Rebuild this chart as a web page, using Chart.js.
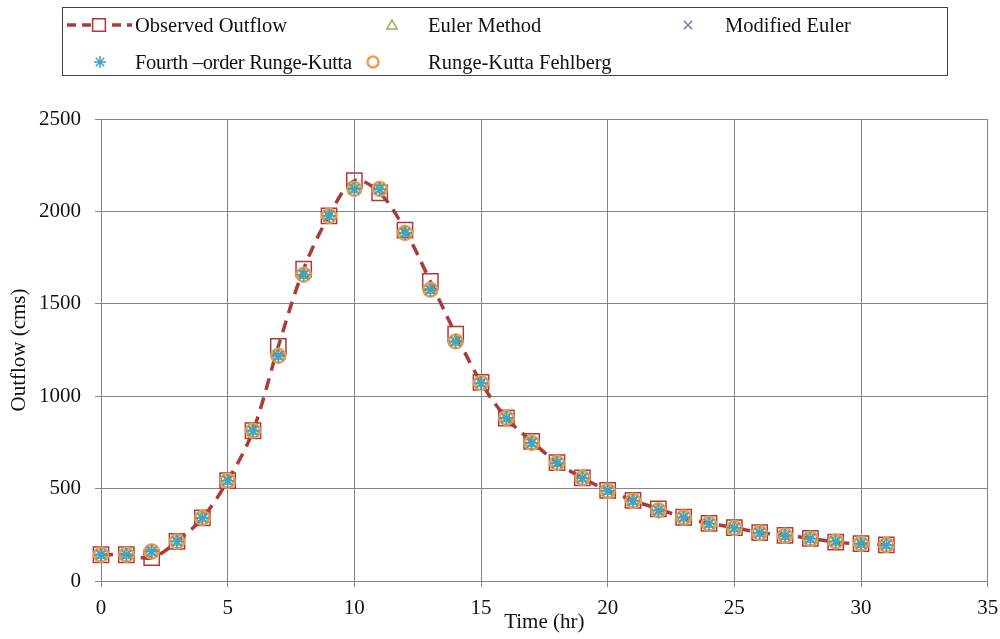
<!DOCTYPE html>
<html><head><meta charset="utf-8">
<script src="https://cdn.jsdelivr.net/npm/chart.js@4.4.1/dist/chart.umd.min.js"></script>
<style>
html,body{margin:0;padding:0;background:#fff;}
#wrap{position:relative;width:1000px;height:639px;overflow:hidden;}
#c{position:absolute;left:0;top:0;}
#lc{position:absolute;left:0;top:0;}
#legend{position:absolute;left:62px;top:7px;width:886px;height:69px;border:1.5px solid #404040;box-sizing:border-box;}
.lt{position:absolute;font-family:"Liberation Serif",serif;font-size:20.5px;line-height:24px;color:#111;white-space:nowrap;}
</style></head>
<body>
<div id="wrap">
<canvas id="c" width="1000" height="639"></canvas>
<div id="legend"></div>
<canvas id="lc" width="1000" height="80"></canvas>
<span class="lt" style="left:135px;top:13px">Observed Outflow</span>
<span class="lt" style="left:428px;top:13px">Euler Method</span>
<span class="lt" style="left:725px;top:13px">Modified Euler</span>
<span class="lt" style="left:135px;top:50px;letter-spacing:-0.3px">Fourth –order Runge-Kutta</span>
<span class="lt" style="left:428px;top:50px">Runge-Kutta Fehlberg</span>
</div>
<script>
// ---- data ----
const hours = [0,1,2,3,4,5,6,7,8,9,10,11,12,13,14,15,16,17,18,19,20,21,22,23,24,25,26,27,28,29,30,31];
const observedOutflow = [142,142,126,214,341,543,813,1270,1688,1976,2166,2100,1899,1621,1336,1075,882,756,640,558,490,436,390,345,312,289,262,247,231,210,202,196];
const eulerMethod     = [142,142,160,214,341,543,813,1219,1657,1976,2121,2121,1883,1576,1296,1071,882,747,638,557,488,434,382,344,310,287,260,245,229,214,202,195];
const modifiedEuler   = [142,142,160,214,341,543,813,1219,1657,1976,2121,2121,1883,1576,1296,1071,882,747,638,557,488,434,382,344,310,287,260,245,229,214,202,195];
const rungeKutta4     = [142,142,160,214,341,543,813,1219,1657,1976,2121,2121,1883,1576,1296,1071,882,747,638,557,488,434,382,344,310,287,260,245,229,214,202,195];
const rungeKuttaFehlberg = [142,142,160,214,341,543,813,1219,1657,1976,2121,2121,1883,1576,1296,1071,882,747,638,557,488,434,382,344,310,287,260,245,229,214,202,195];
const xTicks = [0,5,10,15,20,25,30,35];
const yTicks = [0,500,1000,1500,2000,2500];

const RED='#A93C3A', GREEN='#8FB150', PURPLE='#8A70AC', TEAL='#43A3C0', ORANGE='#F59A4A';
const pts = arr => hours.map((t,i)=>({x:t,y:arr[i]}));
const font = {family:'"Liberation Serif", serif', size:21};
const GRID='#858585';

new Chart(document.getElementById('c').getContext('2d'), {
  type:'line',
  data:{datasets:[
    {label:'Observed Outflow', data:pts(observedOutflow), borderColor:RED, borderWidth:3.5, borderDash:[12,8],
     tension:0.35, pointStyle:'rect', pointRadius:10.8, pointBorderWidth:1.5, pointBorderColor:RED,
     pointBackgroundColor:'rgba(0,0,0,0)', order:5, clip:false},
    {label:'Euler Method', data:pts(eulerMethod), showLine:false, pointStyle:'triangle', pointRadius:7,
     pointBorderWidth:1.5, pointBorderColor:GREEN, pointBackgroundColor:'rgba(0,0,0,0)', order:4, clip:false},
    {label:'Modified Euler', data:pts(modifiedEuler), showLine:false, pointStyle:'crossRot', pointRadius:7,
     pointBorderWidth:1.5, pointBorderColor:PURPLE, pointBackgroundColor:'rgba(0,0,0,0)', order:3, clip:false},
    {label:'Fourth –order Runge-Kutta', data:pts(rungeKutta4), showLine:false, pointStyle:'star', pointRadius:7,
     pointBorderWidth:1.8, pointBorderColor:TEAL, pointBackgroundColor:'rgba(0,0,0,0)', order:1, clip:false},
    {label:'Runge-Kutta Fehlberg', data:pts(rungeKuttaFehlberg), showLine:false, pointStyle:'circle', pointRadius:7,
     pointBorderWidth:2.5, pointBorderColor:ORANGE, pointBackgroundColor:'rgba(0,0,0,0)', order:2, clip:false}
  ]},
  options:{
    responsive:false, animation:false, devicePixelRatio:1,
    layout:{padding:{top:119,right:12,left:0,bottom:0}},
    plugins:{legend:{display:false}, tooltip:{enabled:false}},
    scales:{
      x:{type:'linear', min:0, max:35,
         afterBuildTicks(s){ s.ticks = xTicks.map(v=>({value:v})); },
         afterFit(s){ s.height = 58; s.paddingLeft = 0; s.paddingRight = 0; },
         ticks:{font, color:'#111', padding:9, maxRotation:0, callback:v=>String(v)},
         grid:{color:GRID, tickLength:6, lineWidth:1},
         border:{color:GRID},
         title:{display:true, text:'Time (hr)', font, color:'#111', padding:{top:0,bottom:4}}},
      y:{min:0, max:2500,
         afterBuildTicks(s){ s.ticks = yTicks.map(v=>({value:v})); },
         afterFit(s){ s.width = 101; s.paddingTop = 0; s.paddingBottom = 0; },
         ticks:{font, color:'#111', padding:14, callback:v=>String(v)},
         grid:{color:GRID, tickLength:6, lineWidth:1},
         border:{color:GRID},
         title:{display:true, text:'Outflow (cms)', font, color:'#111', padding:{top:7,bottom:0}}}
    }
  }
});

// legend markers
(function(){
  const ctx = document.getElementById('lc').getContext('2d');
  const H = Chart.helpers;
  function mark(style, color, r, bw, x, y){
    ctx.save();
    ctx.strokeStyle = color; ctx.fillStyle = 'rgba(0,0,0,0)'; ctx.lineWidth = bw;
    H.drawPoint(ctx, {pointStyle:style, radius:r, borderWidth:bw, rotation:0}, x, y);
    ctx.restore();
  }
  ctx.save();
  ctx.strokeStyle = RED; ctx.lineWidth = 3.5; ctx.setLineDash([9,6]);
  ctx.beginPath(); ctx.moveTo(67,25); ctx.lineTo(132,25); ctx.stroke();
  ctx.restore();
  ctx.fillStyle='#fff'; ctx.fillRect(93,19,12,12);
  mark('rect', RED, 9, 1.5, 99, 25);
  mark('triangle', GREEN, 6, 1.5, 392, 26);
  mark('crossRot', PURPLE, 6, 1.5, 688, 25);
  mark('star', TEAL, 6, 1.5, 100, 62);
  mark('circle', ORANGE, 5.5, 2.5, 373, 62);
})();
</script>
</body></html>
